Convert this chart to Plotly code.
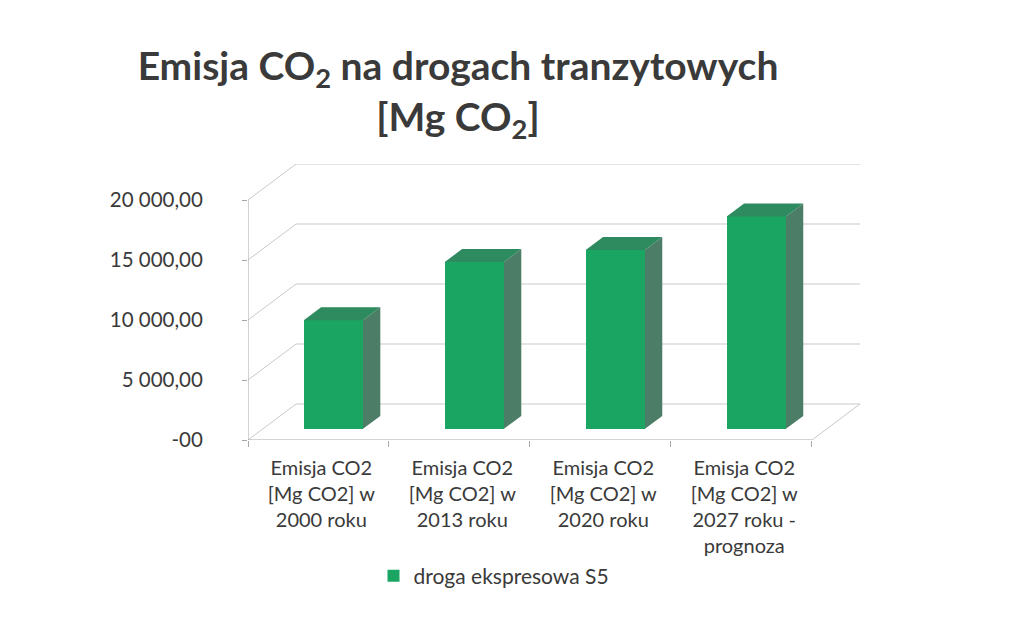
import plotly.graph_objects as go

# ---- data ----
categories = [
    "Emisja CO2<br>[Mg CO2] w<br>2000 roku",
    "Emisja CO2<br>[Mg CO2] w<br>2013 roku",
    "Emisja CO2<br>[Mg CO2] w<br>2020 roku",
    "Emisja CO2<br>[Mg CO2] w<br>2027 roku -<br>prognoza",
]
series_name = "droga ekspresowa S5"
values = [9050, 13900, 14900, 17700]
y_tick_vals = [0, 5000, 10000, 15000, 20000]
y_tick_text = ["-00", "5 000,00", "10 000,00", "15 000,00", "20 000,00"]

# ---- pseudo-3D geometry (oblique projection) ----
DX = 0.341      # depth offset in category units
DY = 3000.0     # depth offset in value units
F0, F1 = 0.31, 0.67   # bar front/back depth fractions
BW = 0.42       # bar width
n = len(values)

FRONT = "#1BA562"
SIDE = "#4C7D66"
TOP = "#2E8A5F"
GRID = "#c9c9c9"
TXT = "#3a3a3a"

fig = go.Figure()

# bar front faces
fx = [i + F0 * DX for i in range(n)]
base0 = F0 * DY
fig.add_trace(go.Bar(
    x=fx, y=values, base=[base0] * n, width=BW,
    marker=dict(color=FRONT, line=dict(width=0)),
    name=series_name, showlegend=True, hoverinfo="skip"))

# side and top faces
ddx = (F1 - F0) * DX
ddy = (F1 - F0) * DY
sx, sy, tx, ty = [], [], [], []
for i, v in enumerate(values):
    xl = fx[i] - BW / 2
    xr = fx[i] + BW / 2
    top = base0 + v
    sx += [xr, xr + ddx, xr + ddx, xr, xr, None]
    sy += [base0, base0 + ddy, top + ddy, top, base0, None]
    tx += [xl, xr, xr + ddx, xl + ddx, xl, None]
    ty += [top, top, top + ddy, top + ddy, top, None]
fig.add_trace(go.Scatter(x=sx, y=sy, fill="toself", fillcolor=SIDE, mode="lines",
                         line=dict(width=0, color=SIDE), showlegend=False, hoverinfo="skip"))
fig.add_trace(go.Scatter(x=tx, y=ty, fill="toself", fillcolor=TOP, mode="lines",
                         line=dict(width=0, color=TOP), showlegend=False, hoverinfo="skip"))

# walls / gridlines
x0, x1 = -0.5, n - 0.5
shapes = []
def ln(xa, ya, xb, yb, color=GRID, w=1):
    shapes.append(dict(type="line", xref="x", yref="y", x0=xa, y0=ya, x1=xb, y1=yb,
                       line=dict(color=color, width=w), layer="below"))
for v in y_tick_vals:
    ln(x0 + DX, v + DY, x1 + DX, v + DY)
    ln(x0, v, x0 + DX, v + DY)
ln(x1, 0, x1 + DX, DY)              # floor right edge
ln(x0, 0, x1, 0, "#a8a8a8")         # floor front edge (x axis)
ln(x0, 0, x0, y_tick_vals[-1], "#a8a8a8")  # front y axis

fig.update_layout(
    width=1031, height=630,
    paper_bgcolor="white", plot_bgcolor="white",
    margin=dict(l=240, r=179, t=156, b=198, autoexpand=False),
    shapes=shapes,
    bargap=0,
    font=dict(family="Lato", color=TXT),
    title=dict(
        text="<b>Emisja CO<sub>2</sub> na drogach tranzytowych<br>[Mg CO<sub>2</sub>]</b>",
        x=450 / 1031, xanchor="center", xref="container",
        y=1 - 72 / 630, yanchor="top", yref="container",
        font=dict(family="Lato", size=39, color="#3a3a3a")),
    legend=dict(orientation="h", x=486 / 1031, xref="container", xanchor="center",
                y=1 - 568 / 630, yref="container", yanchor="middle",
                font=dict(size=21, color=TXT), itemwidth=30),
    xaxis=dict(range=[x0, x1 + DX], tickmode="array", automargin=False,
               tickvals=[i + 0.02 for i in range(n)], ticktext=categories,
               ticks="", showgrid=False, zeroline=False, showline=False,
               tickfont=dict(size=20, color=TXT), ticklabelstandoff=14,
               minor=dict(tickmode="array", tickvals=[i - 0.5 for i in range(n + 1)],
                          ticks="outside", ticklen=6, tickcolor="#a8a8a8", showgrid=False)),
    yaxis=dict(range=[0, y_tick_vals[-1] + DY], tickmode="array", automargin=False,
               tickvals=y_tick_vals, ticktext=y_tick_text,
               ticks="outside", ticklen=5, tickcolor="#a8a8a8",
               showgrid=False, zeroline=False, showline=False,
               tickfont=dict(size=20.5, color=TXT), ticklabelstandoff=35),
)

fig.write_html("out.html")
